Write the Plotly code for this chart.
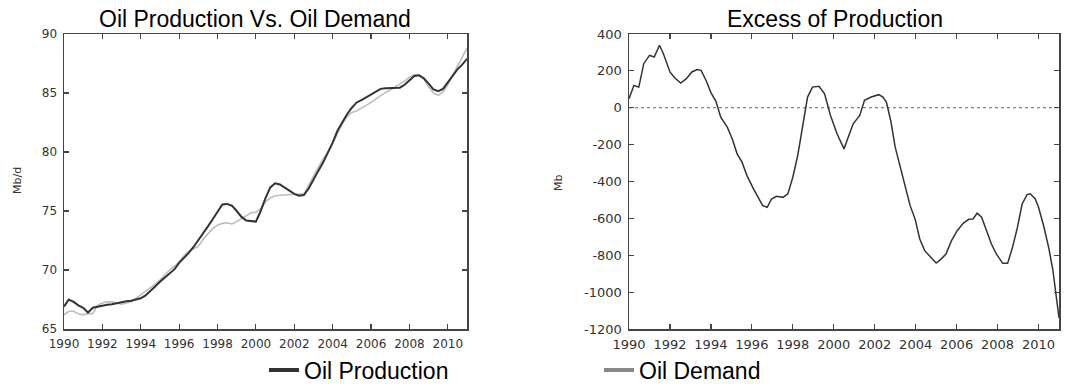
import plotly.graph_objects as go

# ---------------- data ----------------
years_left = [
    1990.00, 1990.25, 1990.50, 1990.75, 1991.00, 1991.25, 1991.50, 1991.75,
    1992.00, 1992.25, 1992.50, 1992.75, 1993.00, 1993.25, 1993.50, 1993.75,
    1994.00, 1994.25, 1994.50, 1994.75, 1995.00, 1995.25, 1995.50, 1995.75,
    1996.00, 1996.25, 1996.50, 1996.75, 1997.00, 1997.25, 1997.50, 1997.75,
    1998.00, 1998.25, 1998.50, 1998.75, 1999.00, 1999.25, 1999.50, 1999.75,
    2000.00, 2000.25, 2000.50, 2000.75, 2001.00, 2001.25, 2001.50, 2001.75,
    2002.00, 2002.25, 2002.50, 2002.75, 2003.00, 2003.25, 2003.50, 2003.75,
    2004.00, 2004.25, 2004.50, 2004.75, 2005.00, 2005.25, 2005.50, 2005.75,
    2006.00, 2006.25, 2006.50, 2006.75, 2007.00, 2007.25, 2007.50, 2007.75,
    2008.00, 2008.25, 2008.50, 2008.75, 2009.00, 2009.25, 2009.50, 2009.75,
    2010.00, 2010.25, 2010.50, 2010.75, 2011.00,
]

oil_production = [
    66.9, 67.5, 67.3, 67.0, 66.8, 66.4, 66.8, 66.9,
    67.0, 67.05, 67.1, 67.2, 67.25, 67.35, 67.4, 67.5,
    67.6, 67.85, 68.2, 68.6, 69.0, 69.35, 69.75, 70.05,
    70.6, 71.0, 71.45, 71.95, 72.5, 73.1, 73.7, 74.3,
    74.9, 75.55, 75.6, 75.45, 75.0, 74.5, 74.2, 74.15,
    74.1, 75.0, 76.1, 77.0, 77.35, 77.25, 77.0, 76.7,
    76.45, 76.3, 76.35, 76.9, 77.7, 78.4, 79.1, 79.9,
    80.8, 81.8, 82.55, 83.2, 83.75, 84.2, 84.4, 84.65,
    84.9, 85.1, 85.35, 85.4, 85.4, 85.4, 85.45, 85.7,
    86.1, 86.45, 86.5, 86.25, 85.8, 85.3, 85.15, 85.35,
    85.9, 86.45, 87.0, 87.4, 87.9,
]

oil_demand = [
    66.2, 66.5, 66.5, 66.3, 66.2, 66.3, 66.3, 67.0,
    67.2, 67.3, 67.3, 67.2, 67.1, 67.2, 67.3, 67.6,
    67.9, 68.15, 68.45, 68.8, 69.15, 69.6, 70.0, 70.3,
    70.7, 71.2, 71.6, 71.8, 72.0, 72.6, 73.1, 73.5,
    73.8, 73.95, 74.0, 73.9, 74.1, 74.35, 74.6, 74.85,
    74.9, 75.2, 75.8, 76.1, 76.3, 76.35, 76.4, 76.4,
    76.4, 76.4, 76.45, 77.2, 78.0, 78.7, 79.4, 80.0,
    80.75, 81.65, 82.4, 83.0, 83.35, 83.5, 83.7, 83.95,
    84.2, 84.5, 84.8, 85.05, 85.25, 85.5, 85.75, 86.0,
    86.35, 86.55, 86.5, 86.2, 85.5, 85.0, 84.8, 85.1,
    85.7, 86.45, 87.2, 88.0, 88.8,
]

years_right = [
    1990.00, 1990.24, 1990.48, 1990.72, 1991.00, 1991.23, 1991.49, 1991.68,
    1992.00, 1992.24, 1992.53, 1992.80, 1993.07, 1993.33, 1993.52, 1993.76,
    1994.00, 1994.24, 1994.48, 1994.80, 1995.04, 1995.28, 1995.52, 1995.76,
    1996.08, 1996.32, 1996.53, 1996.75, 1996.96, 1997.20, 1997.52, 1997.76,
    1998.00, 1998.24, 1998.48, 1998.72, 1998.96, 1999.28, 1999.55, 1999.84,
    2000.16, 2000.50, 2000.71, 2000.95, 2001.27, 2001.50, 2001.83, 2002.20,
    2002.40, 2002.57, 2002.78, 2003.00, 2003.25, 2003.50, 2003.73, 2003.97,
    2004.20, 2004.44, 2004.73, 2005.00, 2005.24, 2005.48, 2005.75, 2006.03,
    2006.32, 2006.59, 2006.80, 2007.00, 2007.22, 2007.46, 2007.70, 2007.94,
    2008.25, 2008.49, 2008.73, 2008.97, 2009.20, 2009.44, 2009.60, 2009.84,
    2010.00, 2010.25, 2010.50, 2010.70, 2010.85, 2011.00,
]

excess_production = [
    49, 121, 112, 239, 284, 275, 339, 293,
    194, 161, 134, 158, 194, 207, 203, 149,
    82, 36, -51, -105, -168, -250, -295, -368,
    -440, -486, -531, -540, -495, -480, -486, -467,
    -377, -259, -105, 58, 112, 116, 76, -42,
    -141, -223, -159, -87, -42, 40, 58, 71,
    58, 31, -69, -214, -322, -431, -531, -603,
    -712, -775, -812, -842, -821, -793, -721, -667,
    -627, -605, -603, -572, -594, -667, -739, -793,
    -844, -844, -757, -649, -522, -471, -467, -495,
    -540, -640, -760, -880, -1000, -1140,
]

year_ticks = [1990, 1992, 1994, 1996, 1998, 2000, 2002, 2004, 2006, 2008, 2010]
left_y_ticks = [65, 70, 75, 80, 85, 90]
right_y_ticks = [400, 200, 0, -200, -400, -600, -800, -1000, -1200]
right_y_labels = ["400", "200", "0", "-200", "-400", "-600", "-800", "-1000", "-1200"]

# ---------------- geometry (pixel positions measured on the 1077x387 reference) ----------------
W = 1077
EXTRA = 30            # room below the visible window so the bottom legend does not shrink the plots
H = 387 + EXTRA
ML, MT = 64, 34
MR = W - 1059
MB = H - 329
PW = W - ML - MR
PH = H - MT - MB


def px_x(ref_px):
    return (ref_px - ML) / PW


def px_y(ref_py):
    return (H - MB - ref_py) / PH


AXIS_COL = "#444444"
TICK_FONT = dict(family="DejaVu Sans", size=12, color="#333333")
TICK_FONT_R = dict(family="DejaVu Sans", size=13, color="#333333")

fig = go.Figure()

fig.add_trace(go.Scatter(x=years_left, y=oil_demand, mode="lines",
                         line=dict(color="#bdbdbd", width=1.6),
                         xaxis="x", yaxis="y", showlegend=False, hoverinfo="skip"))
fig.add_trace(go.Scatter(x=years_left, y=oil_production, mode="lines",
                         line=dict(color="#333333", width=2),
                         xaxis="x", yaxis="y", showlegend=False, hoverinfo="skip"))
fig.add_trace(go.Scatter(x=years_right, y=excess_production, mode="lines",
                         line=dict(color="#333333", width=1.5),
                         xaxis="x2", yaxis="y2", showlegend=False, hoverinfo="skip"))

# legend entries
fig.add_trace(go.Scatter(x=[None], y=[None], mode="lines", name="Oil Production",
                         line=dict(color="#333333", width=4), legend="legend",
                         xaxis="x", yaxis="y"))
fig.add_trace(go.Scatter(x=[None], y=[None], mode="lines", name="Oil Demand",
                         line=dict(color="#888888", width=4), legend="legend2",
                         xaxis="x2", yaxis="y2"))

# zero reference line
fig.add_shape(type="line", xref="x2 domain", yref="y2", x0=0, x1=1, y0=0, y1=0,
              line=dict(color="#666666", width=1, dash="dot"), layer="below")

common_axis = dict(showline=True, linecolor=AXIS_COL, linewidth=1.5, mirror="ticks",
                   ticks="inside", ticklen=5, tickwidth=1.2, tickcolor=AXIS_COL,
                   showgrid=False, zeroline=False, ticklabelstandoff=3)

left_dom = [0, px_x(467)]
right_dom = [px_x(629), 1]

legend_common = dict(orientation="h", xanchor="left", yanchor="middle",
                     y=px_y(370),
                     font=dict(family="Liberation Sans, Arial", size=23, color="black"),
                     bgcolor="rgba(0,0,0,0)", tracegroupgap=0)

fig.update_layout(
    width=W, height=H,
    margin=dict(l=ML, r=MR, t=MT, b=MB),
    paper_bgcolor="white", plot_bgcolor="white",
    font=dict(family="Liberation Sans, Arial", color="black"),
    hovermode=False,
    xaxis=dict(domain=left_dom, range=[1990, 2011], tickvals=year_ticks,
               anchor="y", tickfont=TICK_FONT, **common_axis),
    yaxis=dict(domain=[0, 1], range=[65, 90], tickvals=left_y_ticks,
               anchor="x", tickfont=TICK_FONT, **common_axis),
    xaxis2=dict(domain=right_dom, range=[1990, 2011], tickvals=year_ticks,
                anchor="y2", tickfont=TICK_FONT_R, **common_axis),
    yaxis2=dict(domain=[0, 1], range=[-1200, 400], tickvals=right_y_ticks,
                ticktext=right_y_labels, anchor="x2", tickfont=TICK_FONT_R, **common_axis),
    legend=dict(x=px_x(264), **legend_common),
    legend2=dict(x=px_x(599), **legend_common),
    annotations=[
        dict(text="Oil Production Vs. Oil Demand", x=px_x(255), y=px_y(18.5),
             xref="paper", yref="paper", xanchor="center", yanchor="middle",
             showarrow=False, font=dict(size=23, color="black")),
        dict(text="Excess of Production", x=px_x(835), y=px_y(18.5),
             xref="paper", yref="paper", xanchor="center", yanchor="middle",
             showarrow=False, font=dict(size=23, color="black")),
        dict(text="Mb/d", x=px_x(17), y=px_y(181), xref="paper", yref="paper",
             xanchor="center", yanchor="middle", textangle=-90, showarrow=False,
             font=dict(family="DejaVu Sans", size=11, color="#333333")),
        dict(text="Mb", x=px_x(558), y=px_y(183), xref="paper", yref="paper",
             xanchor="center", yanchor="middle", textangle=-90, showarrow=False,
             font=dict(family="DejaVu Sans", size=11, color="#333333")),
    ],
)

# remove the default 8px page margin so the figure starts at the window corner
fig.write_html(
    "out.html",
    config={"displayModeBar": False, "staticPlot": True},
    post_script="document.body.style.margin='0';"
                "document.documentElement.style.overflow='hidden';",
)
